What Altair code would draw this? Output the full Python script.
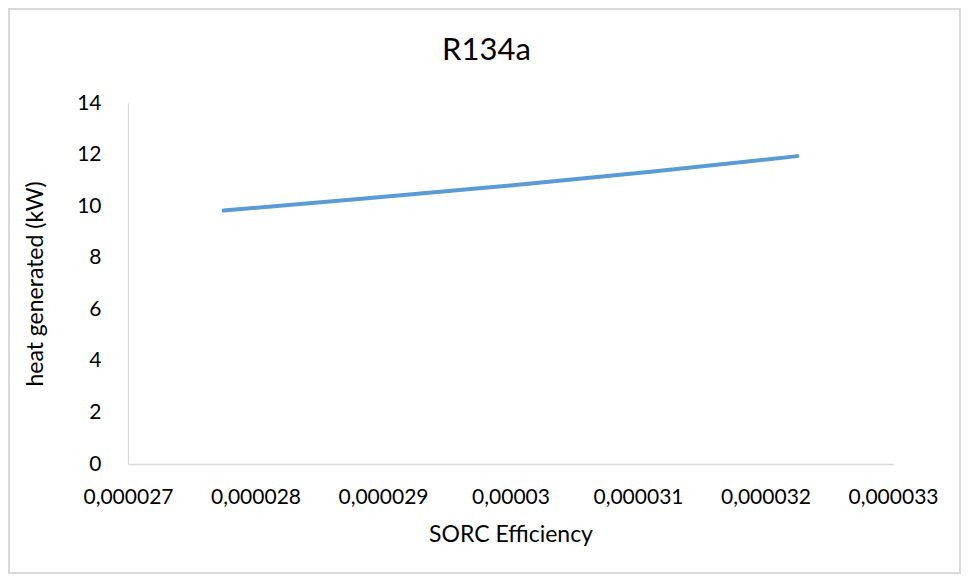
import altair as alt
import pandas as pd

# Data
efficiency = [0.00002775, 0.0000289, 0.0000300, 0.0000311, 0.00003225]
heat_kw = [9.83, 10.32, 10.80, 11.33, 11.94]

x_ticks = [0.000027, 0.000028, 0.000029, 0.00003, 0.000031, 0.000032, 0.000033]
y_ticks = [0, 2, 4, 6, 8, 10, 12, 14]

df = pd.DataFrame({"eff": efficiency, "heat": heat_kw})

W, H = 765, 361
PL, PT, PR, PB = 120, 95, 68, 110
FONT = "Lato"

line = alt.Chart(df).mark_line(
    color="#5B9BD5", strokeWidth=4, strokeCap="round", strokeJoin="round"
).encode(
    x=alt.X(
        "eff:Q",
        scale=alt.Scale(domain=[x_ticks[0], x_ticks[-1]], nice=False, zero=False),
        axis=alt.Axis(
            values=x_ticks,
            labelExpr="replace(format(datum.value, '.6~f'), '.', ',')",
            title="SORC Efficiency",
            ticks=False,
            grid=False,
            domainColor="#d9d9d9",
            domainWidth=1.3,
            labelFont=FONT,
            labelFontSize=21,
            labelColor="#000000",
            labelPadding=22,
            labelFlush=False,
            labelOverlap=False,
            titleFont=FONT,
            titleFontSize=23,
            titleFontWeight="normal",
            titleColor="#000000",
            titlePadding=16,
        ),
    ),
    y=alt.Y(
        "heat:Q",
        scale=alt.Scale(domain=[y_ticks[0], y_ticks[-1]], nice=False),
        axis=alt.Axis(
            values=y_ticks,
            title="heat generated (kW)",
            ticks=False,
            grid=False,
            domainColor="#d9d9d9",
            domainWidth=1.3,
            labelFont=FONT,
            labelFontSize=21,
            labelColor="#000000",
            labelPadding=27,
            titleFont=FONT,
            titleFontSize=23,
            titleFontWeight="normal",
            titleColor="#000000",
            titlePadding=29,
        ),
    ),
)

border = alt.Chart(df).mark_rect(
    fillOpacity=0, stroke="#d9d9d9", strokeWidth=1.5
).encode(
    x=alt.value(-PL + 1),
    x2=alt.value(W + PR - 1),
    y=alt.value(-PT + 1),
    y2=alt.value(H + PB - 1),
)

chart = alt.layer(border, line).properties(
    width=W,
    height=H,
    padding={"left": PL, "top": PT, "right": PR, "bottom": PB},
    autosize=alt.AutoSizeParams(type="none"),
    title=alt.Title(
        "R134a",
        font=FONT,
        fontSize=31,
        fontWeight="normal",
        color="#000000",
        anchor="middle",
        frame="group",
        dx=-24,
        offset=-59,
    ),
).configure(background="white").configure_view(strokeWidth=0, stroke="transparent")

chart.save("out.html", embed_options={"renderer": "svg", "actions": False})
